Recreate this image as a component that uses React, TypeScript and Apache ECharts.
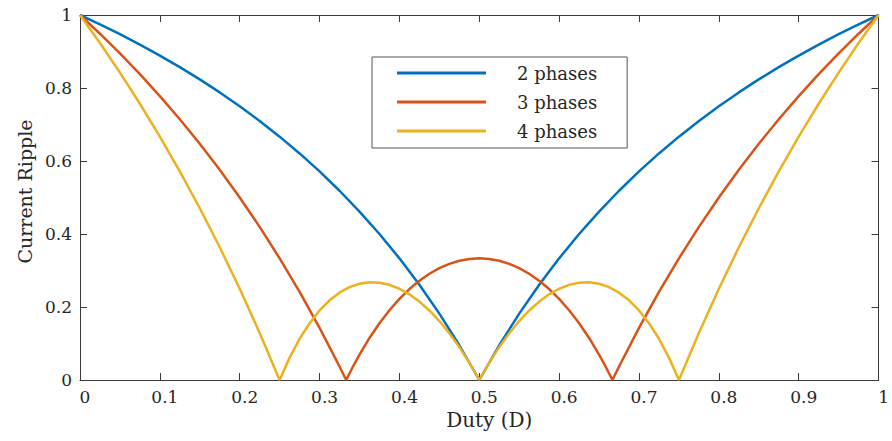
import React, { useEffect, useRef } from "react";
import * as echarts from "echarts";

const dutyTwo = [
  0, 0.025, 0.05, 0.075, 0.1, 0.125, 0.15, 0.175, 0.2, 0.225, 0.25, 0.275, 0.3, 0.325, 0.35, 0.375, 0.4, 0.425, 0.45, 0.475,
  0.5, 0.525, 0.55, 0.575, 0.6, 0.625, 0.65, 0.675, 0.7, 0.725, 0.75, 0.775, 0.8, 0.825, 0.85, 0.875, 0.9, 0.925, 0.95, 0.975, 1,
];

const twoPhases = [
  1, 0.9744, 0.9474, 0.9189, 0.8889, 0.8571, 0.8235, 0.7879, 0.75, 0.7097, 0.6667, 0.6207, 0.5714, 0.5185, 0.4615, 0.4, 0.3333,
  0.2609, 0.1818, 0.0952, 0, 0.0952, 0.1818, 0.2609, 0.3333, 0.4, 0.4615, 0.5185, 0.5714, 0.6207, 0.6667, 0.7097, 0.75, 0.7879,
  0.8235, 0.8571, 0.8889, 0.9189, 0.9474, 0.9744, 1,
];

const dutyThree = [
  0, 0.025, 0.05, 0.075, 0.1, 0.125, 0.15, 0.175, 0.2, 0.225, 0.25, 0.275, 0.3, 0.325,
  0.3333, 0.3417, 0.35, 0.3625, 0.375, 0.3875, 0.4, 0.4125, 0.425, 0.4375, 0.45, 0.4625, 0.475, 0.4875, 0.5,
  0.5125, 0.525, 0.5375, 0.55, 0.5625, 0.575, 0.5875, 0.6, 0.6125, 0.625, 0.6375, 0.65, 0.6583, 0.6667,
  0.675, 0.7, 0.725, 0.75, 0.775, 0.8, 0.825, 0.85, 0.875, 0.9, 0.925, 0.95, 0.975, 1,
];

const threePhases = [
  1, 0.9487, 0.8947, 0.8378, 0.7778, 0.7143, 0.6471, 0.5758, 0.5, 0.4194, 0.3333, 0.2414, 0.1429, 0.037,
  0, 0.0363, 0.0696, 0.1152, 0.1556, 0.1911, 0.2222, 0.2491, 0.272, 0.291, 0.3064, 0.3183, 0.3267, 0.3317, 0.3333,
  0.3317, 0.3267, 0.3183, 0.3064, 0.291, 0.272, 0.2491, 0.2222, 0.1911, 0.1556, 0.1152, 0.0696, 0.0363, 0,
  0.037, 0.1429, 0.2414, 0.3333, 0.4194, 0.5, 0.5758, 0.6471, 0.7143, 0.7778, 0.8378, 0.8947, 0.9487, 1,
];

const dutyFour = [
  0, 0.025, 0.05, 0.075, 0.1, 0.125, 0.15, 0.175, 0.2, 0.225, 0.25,
  0.2625, 0.275, 0.2875, 0.3, 0.3125, 0.325, 0.3375, 0.35, 0.3625, 0.375, 0.3875, 0.4, 0.4125, 0.425, 0.4375, 0.45, 0.4625,
  0.475, 0.4875, 0.5,
  0.5125, 0.525, 0.5375, 0.55, 0.5625, 0.575, 0.5875, 0.6, 0.6125, 0.625, 0.6375, 0.65, 0.6625, 0.675, 0.6875, 0.7, 0.7125,
  0.725, 0.7375, 0.75,
  0.775, 0.8, 0.825, 0.85, 0.875, 0.9, 0.925, 0.95, 0.975, 1,
];

const fourPhases = [
  1, 0.9231, 0.8421, 0.7568, 0.6667, 0.5714, 0.4706, 0.3636, 0.25, 0.129, 0,
  0.0613, 0.1129, 0.1556, 0.1905, 0.2182, 0.2393, 0.2544, 0.2637, 0.2678, 0.2667, 0.2607, 0.25, 0.2347, 0.2148, 0.1905,
  0.1616, 0.1282, 0.0902, 0.0475, 0,
  0.0475, 0.0902, 0.1282, 0.1616, 0.1905, 0.2148, 0.2347, 0.25, 0.2607, 0.2667, 0.2678, 0.2637, 0.2544, 0.2393, 0.2182,
  0.1905, 0.1556, 0.1129, 0.0613, 0,
  0.129, 0.25, 0.3636, 0.4706, 0.5714, 0.6667, 0.7568, 0.8421, 0.9231, 1,
];

const seriesNames = ["2 phases", "3 phases", "4 phases"];
const colors = ["#0072BD", "#D95319", "#EDB120"];

const FONT = "DejaVu Serif";
const TEXT = "#262626";
const AXIS = "#3a3a3a";

const pairs = (xs: number[], ys: number[]) => xs.map((x, i) => [x, ys[i]]);

export default function App() {
  const ref = useRef<HTMLDivElement>(null);
  useEffect(() => {
    if (!ref.current) return;
    const chart = echarts.init(ref.current, undefined, { renderer: "svg" });
    const axisCommon = {
      type: "value" as const,
      min: 0,
      max: 1,
      axisLine: { show: true, onZero: false, lineStyle: { color: AXIS, width: 1 } },
      axisTick: { show: true, inside: true, length: 7, lineStyle: { color: AXIS, width: 1 } },
      splitLine: { show: false },
    };
    const datasets = [
      pairs(dutyTwo, twoPhases),
      pairs(dutyThree, threePhases),
      pairs(dutyFour, fourPhases),
    ];
    chart.setOption({
      animation: false,
      backgroundColor: "#ffffff",
      grid: { left: 80, right: 9, top: 15, bottom: 61 },
      legend: {
        show: true,
        orient: "vertical",
        left: 372,
        top: 57,
        data: seriesNames,
        icon: "rect",
        itemWidth: 89,
        itemHeight: 3,
        itemGap: 9,
        padding: [6, 30, 7, 25],
        borderColor: "#555",
        borderWidth: 1,
        borderRadius: 0,
        backgroundColor: "#ffffff",
        textStyle: {
          fontFamily: FONT,
          fontSize: 18,
          color: TEXT,
          lineHeight: 20,
          padding: [0, 0, 0, 26],
        },
      },
      xAxis: [
        {
          ...axisCommon,
          position: "bottom",
          interval: 0.1,
          name: "Duty (D)",
          nameLocation: "middle",
          nameGap: 29,
          nameTextStyle: { fontFamily: FONT, fontSize: 20, color: TEXT, padding: [0, 0, 0, 20] },
          axisLabel: { fontFamily: FONT, fontSize: 17, color: TEXT, margin: 8, padding: [0, 0, 0, 10] },
        },
        {
          ...axisCommon,
          position: "top",
          interval: 0.1,
          axisLabel: { show: false },
        },
      ],
      yAxis: [
        {
          ...axisCommon,
          position: "left",
          interval: 0.2,
          name: "Current Ripple",
          nameLocation: "middle",
          nameRotate: 90,
          nameGap: 45,
          nameTextStyle: { fontFamily: FONT, fontSize: 19, color: TEXT, padding: [0, 0, 0, 12] },
          axisLabel: { fontFamily: FONT, fontSize: 17, color: TEXT, margin: 8 },
        },
        {
          ...axisCommon,
          position: "right",
          interval: 0.2,
          axisLabel: { show: false },
        },
      ],
      series: seriesNames.map((name, i) => ({
        name,
        type: "line",
        data: datasets[i],
        xAxisIndex: 0,
        yAxisIndex: 0,
        showSymbol: false,
        symbol: "none",
        smooth: false,
        color: colors[i],
        lineStyle: { color: colors[i], width: 2.5 },
        clip: false,
      })),
    });
    return () => chart.dispose();
  }, []);
  return <div ref={ref} style={{ position: "fixed", left: 0, top: 0, width: 892, height: 441 }} />;
}
